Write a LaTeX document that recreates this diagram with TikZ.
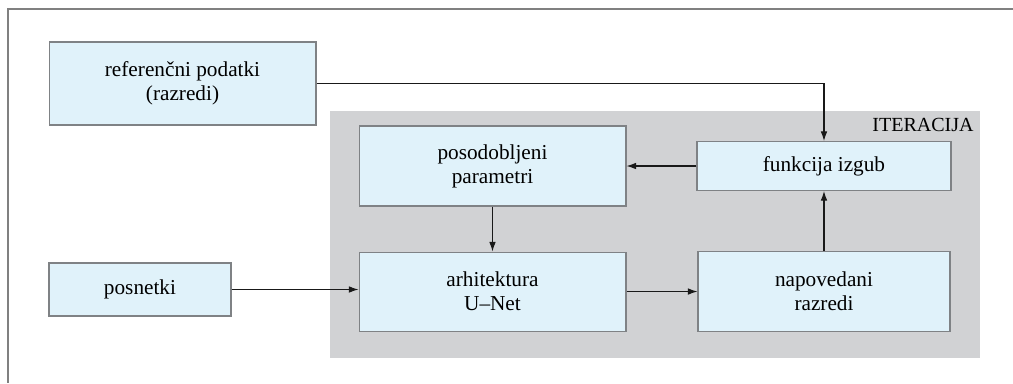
\documentclass[tikz,border=0pt]{standalone}
\usepackage{fontspec}
\setmainfont{Liberation Serif}
\usetikzlibrary{arrows.meta,positioning}
\definecolor{boxfill}{HTML}{E0F2FA}
\definecolor{boxline}{HTML}{7F8285}
\definecolor{iterfill}{HTML}{D1D2D4}
\definecolor{framecol}{HTML}{808080}

\begin{document}
\begin{tikzpicture}[x=0.02cm,y=-0.02cm,
    font=\fontsize{12.1}{13.6}\selectfont,
    box/.style={draw=boxline,fill=boxfill,line width=0.6pt,align=center,inner sep=0pt},
    conn/.style={-{Latex[length=5.5pt,width=3.8pt]},line width=0.6pt,color=black!90}]
    \useasboundingbox (0,0) rectangle (1013,383);
    \draw[framecol,line width=0.9pt] (1013,9) -- (8,9) -- (8,383);

    \fill[iterfill] (330,111) rectangle (980,358);
    \node[anchor=north east,inner sep=0pt,font=\fontsize{11.4}{13.6}\selectfont] (iter) at (974,118) {ITERACIJA};

    \node[box,minimum width=5.34cm,minimum height=1.66cm] (ref) at (182.5,83.5) {referenčni podatki\\(razredi)};
    \node[box,minimum width=3.64cm,minimum height=1.06cm] (posnetki) at (140,289.5) {posnetki};
    \node[box,minimum width=5.34cm,minimum height=1.6cm] (posod) at (492.5,166) {posodobljeni\\parametri};
    \node[box,minimum width=5.34cm,minimum height=1.58cm,below=0.9cm of posod] (arh) {arhitektura\\U–Net};
    \node[box,minimum width=5.04cm,minimum height=1.6cm,right=1.42cm of arh] (napov) {napovedani\\razredi};
    \node[box,minimum width=5.08cm,minimum height=0.98cm,above=1.2cm of napov] (funk) {funkcija izgub};

    \draw[conn] (ref.east) -| (funk.north);
    \draw[conn] (funk.west) -- (funk.west -| posod.east);
    \draw[conn] (posod) -- (arh);
    \draw[conn] (posnetki.east) -- (posnetki.east -| arh.west);
    \draw[conn] (arh) -- (napov);
    \draw[conn] (napov) -- (funk);
\end{tikzpicture}
\end{document}
